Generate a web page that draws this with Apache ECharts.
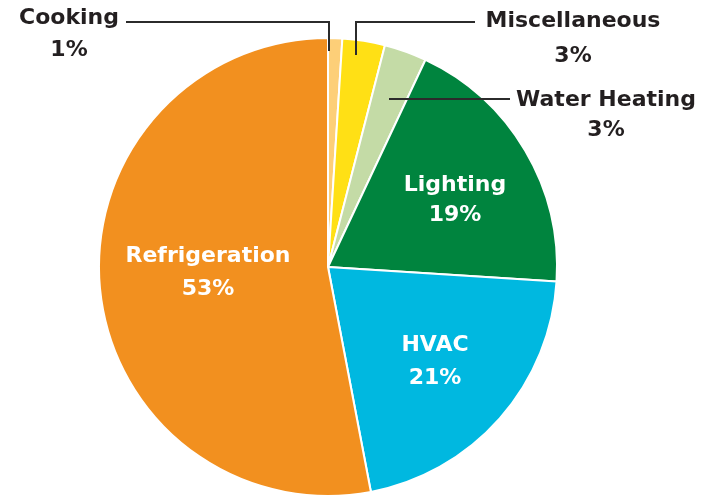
<!DOCTYPE html>
<html>
<head>
<meta charset="utf-8">
<script src="https://cdn.jsdelivr.net/npm/echarts@6/dist/echarts.min.js"></script>
<style>
  html, body { margin: 0; padding: 0; background: #fff; }
  #chart { width: 713px; height: 498px; }
</style>
</head>
<body>
<div id="chart"></div>
<script>
// energy end uses, clockwise from 12 o'clock
const categories = ['Cooking', 'Miscellaneous', 'Water Heating', 'Lighting', 'HVAC', 'Refrigeration'];
const shares = [1, 3, 3, 19, 21, 53];
const colors = ['#fdcf78', '#ffe015', '#c4dba6', '#00843e', '#00b8e0', '#f2901f'];
const outsideLabels = ['Cooking', 'Miscellaneous', 'Water Heating'];

// where each label sits and how the leader lines run
const labelSpots = {
  'Cooking': { x: 69, y: 34, lh: 32, line: [[329, 51], [329, 22], [126, 22]] },
  'Miscellaneous': { x: 573, y: 39, lh: 35, line: [[356, 55], [356, 22], [475, 22]] },
  'Water Heating': { x: 606, y: 115, lh: 30, line: [[389, 99], [450, 99], [510, 99]] },
  'Lighting': { x: 455, y: 200, lh: 30 },
  'HVAC': { x: 435, y: 362, lh: 33 },
  'Refrigeration': { x: 208, y: 273, lh: 33 }
};

const chart = echarts.init(document.getElementById('chart'));

const baseLabel = {
  formatter: p => p.name + '\n' + p.value + '%',
  fontFamily: 'DejaVu Sans',
  fontWeight: 'bold',
  fontSize: 22,
  align: 'center'
};

function placeLabel(params) {
  const spot = labelSpots[categories[params.dataIndex]];
  const out = { x: spot.x, y: spot.y, align: 'center', verticalAlign: 'middle' };
  if (spot.line) out.labelLinePoints = spot.line;
  return out;
}

// slices with the white labels inside
const sliceData = categories.map((name, i) => {
  const outside = outsideLabels.indexOf(name) >= 0;
  return {
    name: name,
    value: shares[i],
    itemStyle: { color: colors[i] },
    label: { show: !outside, lineHeight: labelSpots[name].lh }
  };
});

// transparent copy on top, carrying the outside labels and leader lines
const calloutData = categories.map((name, i) => {
  const outside = outsideLabels.indexOf(name) >= 0;
  return {
    name: name,
    value: shares[i],
    label: { show: outside, lineHeight: labelSpots[name].lh },
    labelLine: { show: outside }
  };
});

chart.setOption({
  animation: false,
  backgroundColor: '#ffffff',
  series: [{
    type: 'pie',
    z: 2,
    center: [328, 267],
    radius: 229,
    startAngle: 90,
    clockwise: true,
    avoidLabelOverlap: false,
    data: sliceData,
    itemStyle: { borderColor: '#ffffff', borderWidth: 2 },
    label: Object.assign({ position: 'inside', color: '#ffffff' }, baseLabel),
    labelLine: { show: false },
    labelLayout: placeLabel
  }, {
    type: 'pie',
    z: 5,
    silent: true,
    center: [328, 267],
    radius: 229,
    startAngle: 90,
    clockwise: true,
    avoidLabelOverlap: false,
    data: calloutData,
    itemStyle: { color: 'rgba(0,0,0,0)', borderWidth: 0 },
    label: Object.assign({ position: 'outside', color: '#231f20' }, baseLabel),
    labelLine: { lineStyle: { color: '#2b2b2b', width: 2 } },
    labelLayout: placeLabel
  }]
});
</script>
</body>
</html>
